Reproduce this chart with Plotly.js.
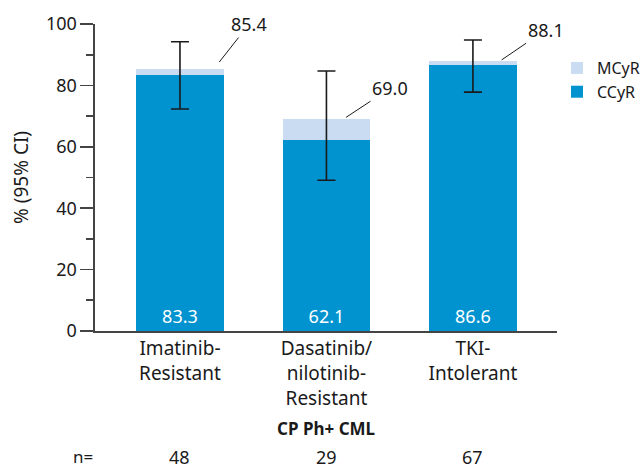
<!DOCTYPE html>
<html>
<head>
<meta charset="utf-8">
<script src="https://cdn.plot.ly/plotly-3.0.1.min.js"></script>
<style>html,body{margin:0;padding:0;background:#fff;}#chart{width:642px;height:468px;}</style>
</head>
<body>
<div id="chart"></div>
<script>
// ---- data ----
const categories = ["Imatinib-<br>Resistant", "Dasatinib/<br>nilotinib-<br>Resistant", "TKI-<br>Intolerant"];
const ccyr = [83.3, 62.1, 86.6];
const mcyr = [85.4, 69.0, 88.1];
const ciLow = [72.3, 49.1, 77.8];
const ciHigh = [94.2, 84.7, 94.8];
const nValues = [48, 29, 67];
const groupLabel = "CP Ph+ CML";

const FONT = "Noto Sans, sans-serif";
const DARK = "#0093d0";
const LIGHT = "#c9dcf2";
const INK = "#1a1a1a";

const mcyrExtra = mcyr.map((v, i) => +(v - ccyr[i]).toFixed(1));

const traces = [
  {
    type: "bar", name: "CCyR", x: categories, y: ccyr,
    marker: {color: DARK, line: {width: 0}}, width: 0.6,
    text: ccyr.map(v => v.toFixed(1)), textposition: "inside", insidetextanchor: "start",
    textfont: {color: "#ffffff", size: 18, family: FONT}, hoverinfo: "skip"
  },
  {
    type: "bar", name: "MCyR", x: categories, y: mcyrExtra,
    marker: {color: LIGHT, line: {width: 0}}, width: 0.6, hoverinfo: "skip"
  },
  {
    type: "scatter", mode: "markers", x: categories, y: mcyr, showlegend: false,
    marker: {opacity: 0, size: 1},
    error_y: {type: "data", symmetric: false,
      array: ciHigh.map((v, i) => v - mcyr[i]),
      arrayminus: mcyr.map((v, i) => v - ciLow[i]),
      color: INK, thickness: 1.6, width: 9},
    hoverinfo: "skip"
  }
];

const annotations = [];
// value callouts for total (MCyR)
const callOffX = [0.268, 0.134, 0.196];
const callOffY = [2.2, 0.6, 0.2];
const callAx = [30, 44, 44];
const callAy = [-38, -29, -30];
mcyr.forEach((v, i) => {
  annotations.push({
    x: i + callOffX[i], y: v + callOffY[i], xref: "x", yref: "y",
    text: v.toFixed(1), showarrow: true, arrowhead: 0, arrowwidth: 1, arrowcolor: INK,
    ax: callAx[i], ay: callAy[i], standoff: 0, startstandoff: 0,
    font: {family: FONT, size: 18, color: INK}
  });
});
// group label
annotations.push({x: 0.5, y: -0.318, xref: "paper", yref: "paper", text: "<b>" + groupLabel + "</b>",
  showarrow: false, font: {family: FONT, size: 17, color: INK}, xanchor: "center", yanchor: "middle"});
// n= row
annotations.push({x: -0.026, y: -0.41, xref: "paper", yref: "paper", text: "n=",
  showarrow: false, font: {family: FONT, size: 17, color: INK}, xanchor: "center", yanchor: "middle"});
nValues.forEach((n, i) => {
  annotations.push({x: categories[i], y: -0.41, xref: "x", yref: "paper", text: String(n),
    showarrow: false, font: {family: FONT, size: 18, color: INK}, xanchor: "center", yanchor: "middle"});
});

const layout = {
  width: 642, height: 468,
  margin: {l: 95, r: 85, t: 24, b: 137, autoexpand: false},
  paper_bgcolor: "#fff", plot_bgcolor: "#fff",
  barmode: "stack",
  font: {family: FONT, color: INK, size: 18},
  showlegend: true,
  legend: {x: 1.0, y: 0.912, xanchor: "left", yanchor: "top", traceorder: "reversed",
    font: {family: FONT, size: 16, color: INK}, bgcolor: "rgba(0,0,0,0)", itemwidth: 30},
  xaxis: {
    type: "category", range: [-0.58, 2.574], showline: true, linecolor: "#444", linewidth: 1.6,
    ticks: "", showgrid: false, zeroline: false, tickfont: {family: FONT, size: 19, color: INK},
    fixedrange: true
  },
  yaxis: {
    range: [0, 100], dtick: 20, tick0: 0, showline: true, linecolor: "#444", linewidth: 1.6,
    ticks: "outside", ticklen: 13, tickwidth: 1.6, tickcolor: "#444",
    minor: {dtick: 10, ticks: "outside", ticklen: 7, tickwidth: 1.6, tickcolor: "#444"},
    showgrid: false, zeroline: false, tickfont: {family: FONT, size: 18, color: INK},
    title: {text: "% (95% CI)", font: {family: FONT, size: 19, color: INK}, standoff: 12},
    fixedrange: true
  },
  annotations: annotations
};

Plotly.newPlot("chart", traces, layout, {staticPlot: true, displayModeBar: false});
</script>
</body>
</html>
